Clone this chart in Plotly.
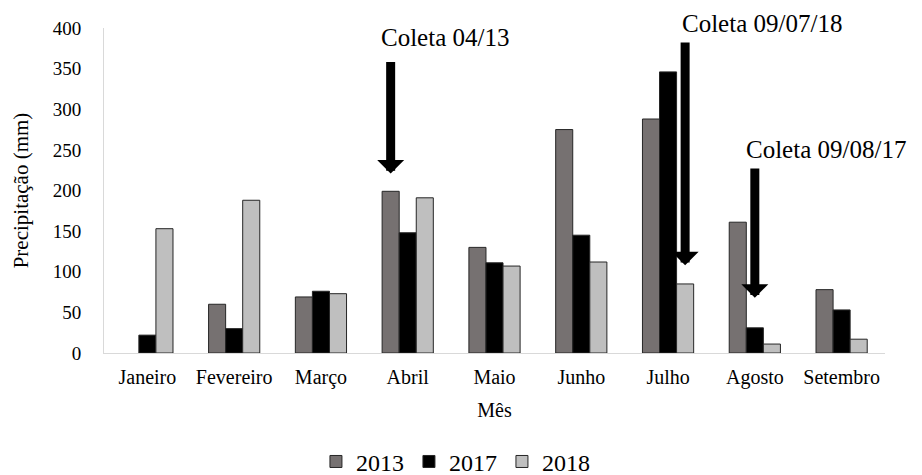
import plotly.graph_objects as go

# Monthly rainfall (mm) per year
meses = ["Janeiro", "Fevereiro", "Março", "Abril", "Maio", "Junho", "Julho", "Agosto", "Setembro"]
anos = ["2013", "2017", "2018"]
chuva_2013 = [None, 60, 69, 199, 130, 275, 288, 161, 78]
chuva_2017 = [22, 30, 76, 148, 111, 145, 346, 31, 53]
chuva_2018 = [153, 188, 73, 191, 107, 112, 85, 11, 17]
cores = ["#767171", "#000000", "#bfbfbf"]

# Sampling events: label, month, year series, arrow tip / tail (mm), label anchor
coletas = ["Coleta 04/13", "Coleta 09/07/18", "Coleta 09/08/17"]
coleta_mes = ["Abril", "Julho", "Agosto"]
coleta_serie = [0, 2, 1]
seta_ponta = [221, 108, 68]
seta_cauda = [360, 384, 229]
texto_dx = [0.43, 1.08, 0.82]
texto_y = [388, 406, 250]

YMAX = 400
BARGAP = 0.41
largura = (1 - BARGAP) / 3

FONT = "Liberation Serif"

fig = go.Figure()
for nome, vals, cor in zip(anos, [chuva_2013, chuva_2017, chuva_2018], cores):
    fig.add_trace(go.Bar(
        x=meses, y=vals, name=nome,
        marker=dict(color=cor, line=dict(color="#262626", width=1)),
    ))

for txt, mes, s, ponta, cauda, dx, ty in zip(coletas, coleta_mes, coleta_serie,
                                               seta_ponta, seta_cauda, texto_dx, texto_y):
    xc = meses.index(mes) + (s - 1) * largura
    fig.add_annotation(
        x=xc, y=ponta, ax=xc, ay=cauda, axref="x", ayref="y",
        xref="x", yref="y", text="", showarrow=True,
        arrowhead=1, arrowsize=0.5, arrowwidth=9, arrowcolor="#000000",
    )
    fig.add_annotation(
        x=meses.index(mes) + dx, y=ty / YMAX, xref="x", yref="paper", text=txt,
        showarrow=False, xanchor="center", yanchor="middle",
        font=dict(family=FONT, size=25, color="#000000"),
    )

fig.update_layout(
    width=922, height=475,
    margin=dict(l=104, r=37, t=28, b=122, autoexpand=False),
    paper_bgcolor="white", plot_bgcolor="white",
    barmode="group", bargap=BARGAP, bargroupgap=0,
    font=dict(family=FONT, size=18, color="#000000"),
    showlegend=True,
    legend=dict(
        orientation="h", x=0.45, xanchor="center", y=-0.335, yanchor="middle",
        font=dict(family=FONT, size=24), itemwidth=30, traceorder="normal",
    ),
    xaxis=dict(
        range=[-0.5, len(meses) - 0.5],
        showline=True, linecolor="#d9d9d9", linewidth=1, ticks="",
        title=dict(text="Mês", font=dict(size=20), standoff=14),
        tickfont=dict(size=20), ticklabelstandoff=6,
    ),
    yaxis=dict(
        range=[0, YMAX], dtick=50, showgrid=False, zeroline=False,
        showline=True, linecolor="#d9d9d9", linewidth=1, ticks="",
        ticklabelstandoff=18, tickfont=dict(size=19),
        title=dict(text="Precipitação (mm)", font=dict(size=21), standoff=18),
    ),
)

fig.write_html("out.html")
